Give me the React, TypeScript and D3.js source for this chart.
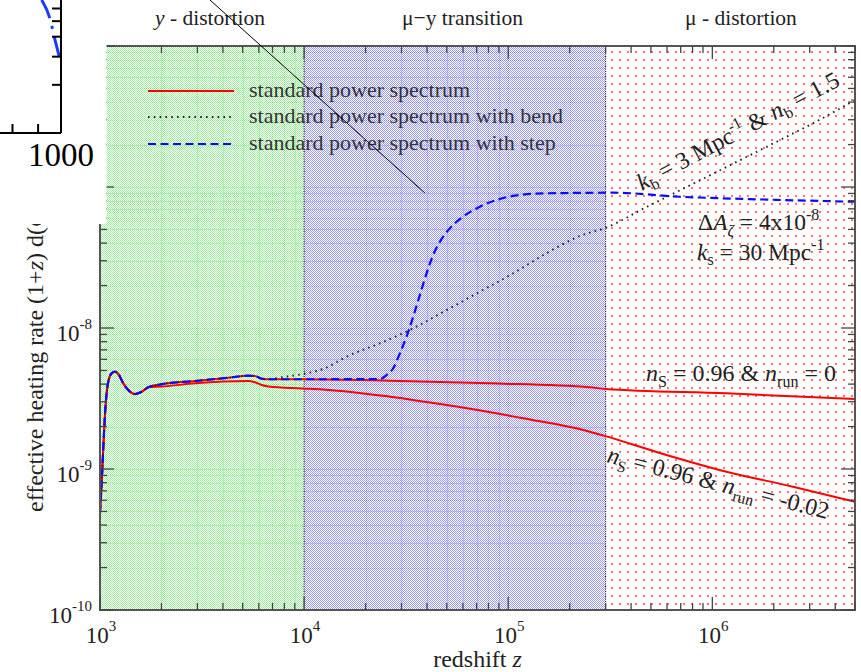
import React from 'react';
import * as d3 from 'd3';

const WIDTH = 861;
const HEIGHT = 672;

// axes
const Z_DOMAIN: [number, number] = [1e3, 5e6];
const V_DOMAIN: [number, number] = [1e-10, 1e-6];
const xMajor = [1e3, 1e4, 1e5, 1e6];
const xMajorExp = ['3', '4', '5', '6'];
const yMajor = [1e-10, 1e-9, 1e-8, 1e-7, 1e-6];
const yMajorExp = ['-10', '-9', '-8', '-7', '-6'];

// regions
const regionEdges = [1e3, 1e4, 3e5, 5e6];

// legend
const legendLabels = [
  'standard power spectrum',
  'standard power spectrum with bend',
  'standard power spectrum with step',
];

// series: standard, n_run = 0
const stdZ = [1000, 1019, 1046, 1070, 1098, 1141, 1185, 1229, 1301, 1376, 1484, 1600, 1724, 2005, 2919, 4250, 5323, 5742, 6193, 6672, 9900,
  26320, 81250, 250900, 299600, 1172000, 5000000];
const stdV = [4.88e-10, 7.96e-10, 1.80e-9, 3.08e-9, 4.16e-9, 4.77e-9, 4.90e-9, 4.72e-9, 4.05e-9, 3.63e-9, 3.40e-9, 3.53e-9, 3.80e-9, 3.99e-9, 4.21e-9, 4.44e-9, 4.59e-9, 4.57e-9, 4.37e-9, 4.33e-9, 4.33e-9,
  4.23e-9, 4.05e-9, 3.80e-9, 3.69e-9, 3.44e-9, 3.14e-9];

// series: standard, n_run = -0.02
const runZ = [1000, 1019, 1046, 1070, 1098, 1141, 1185, 1229, 1301, 1376, 1484, 1600, 1724,
  2005, 2919, 5323, 5742, 6193, 6672, 9722, 12360, 26320, 55830, 118300, 250900, 299600, 552600, 1172000, 2484000, 5000000];
const runV = [4.88e-10, 7.96e-10, 1.80e-9, 3.08e-9, 4.16e-9, 4.77e-9, 4.90e-9, 4.72e-9, 4.05e-9, 3.63e-9, 3.40e-9, 3.53e-9, 3.80e-9,
  3.84e-9, 4.05e-9, 4.21e-9, 4.12e-9, 3.94e-9, 3.85e-9, 3.73e-9, 3.67e-9, 3.26e-9, 2.77e-9, 2.29e-9, 1.84e-9, 1.71e-9, 1.30e-9, 9.57e-10, 7.49e-10, 5.86e-10];

// series: with bend
const bendZ = [1000, 1019, 1046, 1070, 1098, 1141, 1185, 1229, 1301, 1376, 1484, 1600, 1724, 2005, 2919, 4250, 5323, 5742, 6193, 6672,
  8054, 9900, 12640, 16150, 23510, 34220, 49880, 72600, 105700, 154000, 224200, 303000, 475600, 596100, 2307000, 3113000, 5000000];
const bendV = [4.88e-10, 7.96e-10, 1.80e-9, 3.08e-9, 4.16e-9, 4.77e-9, 4.90e-9, 4.72e-9, 4.05e-9, 3.63e-9, 3.40e-9, 3.53e-9, 3.80e-9, 3.99e-9, 4.21e-9, 4.44e-9, 4.59e-9, 4.57e-9, 4.37e-9, 4.33e-9,
  4.51e-9, 4.72e-9, 5.18e-9, 6.26e-9, 7.79e-9, 9.95e-9, 1.34e-8, 1.81e-8, 2.44e-8, 3.39e-8, 4.49e-8, 5.16e-8, 7.21e-8, 8.49e-8, 2.27e-7, 2.83e-7, 4.14e-7];

// series: with step
const stepZ = [1000, 1019, 1046, 1070, 1098, 1141, 1185, 1229, 1301, 1376, 1484, 1600, 1724, 2005, 2919, 4250, 5323, 5742, 6193, 6672, 9900,
  23510, 25350, 27320, 29450, 31760, 34220, 36900, 39800, 42870, 46240, 51760, 60130, 72600, 87560, 114000, 154000, 326400, 692300, 1469000, 5000000];
const stepV = [4.88e-10, 7.96e-10, 1.80e-9, 3.08e-9, 4.16e-9, 4.77e-9, 4.90e-9, 4.72e-9, 4.05e-9, 3.63e-9, 3.40e-9, 3.53e-9, 3.80e-9, 3.99e-9, 4.21e-9, 4.44e-9, 4.59e-9, 4.57e-9, 4.37e-9, 4.33e-9, 4.33e-9,
  4.35e-9, 4.64e-9, 5.18e-9, 6.61e-9, 8.68e-9, 1.20e-8, 1.71e-8, 2.44e-8, 3.29e-8, 4.09e-8, 5.09e-8, 6.16e-8, 7.25e-8, 8.09e-8, 8.78e-8, 9.02e-8, 9.11e-8, 8.53e-8, 8.22e-8, 7.86e-8];

// stray pointer line (in data units)
const pointerZ = [3457, 39040];
const pointerV = [2.12e-6, 9.07e-8];

// fragment of a neighbouring figure (top-left corner)
const insetXDomain: [number, number] = [800, 1000];
const insetYDomain: [number, number] = [1, 10];
const insetXTicks = [800, 900];
const insetYTicks = [2, 3, 4, 5, 6];
const insetLabel = '1000';
const insetLineX = [915, 950, 973, 1000];
const insetLineY = [6.78, 5.21, 3.81, 2.73];

const FONT = '"Liberation Serif", "DejaVu Serif", "Times New Roman", serif';

const zip = (a: number[], b: number[]): [number, number][] => a.map((v, i) => [v, b[i]]);

export default function App() {
  const L = 100, R = 855, T = 46, B = 610;
  const x = d3.scaleLog().domain(Z_DOMAIN).range([L, R]);
  const y = d3.scaleLog().domain(V_DOMAIN).range([B, T]);
  const line = d3.line<[number, number]>().x(d => x(d[0])).y(d => y(d[1])).curve(d3.curveMonotoneX);
  const xTicks = x.ticks();
  const yTicks = y.ticks();
  const isMajor = (t: number) => Math.abs(Math.log10(t) - Math.round(Math.log10(t))) < 1e-6;

  const xr = regionEdges.map(z => x(z));

  const ix = d3.scaleLog().domain(insetXDomain).range([12.5, 61]);
  const iy = d3.scaleLog().domain(insetYDomain).range([133, -27]);
  const insetLine = d3.line<[number, number]>().x(d => ix(d[0])).y(d => iy(d[1])).curve(d3.curveMonotoneX);

  const gridColors = ['rgba(0,210,0,0.28)', 'rgba(0,0,235,0.22)'];

  return (
    <svg width={WIDTH} height={HEIGHT} style={{ position: 'absolute', left: 0, top: 0, background: '#fff' }} fontFamily={FONT}>
      <defs>
        <pattern id="greenPat" width="2" height="2" patternUnits="userSpaceOnUse">
          <rect width="2" height="2" fill="#fff" />
          <rect x="0" y="0" width="1" height="1" fill="#9cee9c" />
          <rect x="1" y="1" width="1" height="1" fill="#9cee9c" />
        </pattern>
        <pattern id="bluePat" width="2" height="2" patternUnits="userSpaceOnUse">
          <rect width="2" height="2" fill="#fff" />
          <rect x="0" y="0" width="1" height="1" fill="#9a9af4" />
          <rect x="1" y="1" width="1" height="1" fill="#9a9af4" />
        </pattern>
        <pattern id="redPat" width="8" height="8" patternUnits="userSpaceOnUse">
          <rect width="8" height="8" fill="#fff" />
          <rect x="3" y="3" width="2" height="2" fill="#ff7474" />
        </pattern>
        <clipPath id="plotClip">
          <rect x={L} y={T} width={R - L} height={B - T} />
        </clipPath>
        <clipPath id="insetClip">
          <rect x={0} y={0} width={61} height={133} />
        </clipPath>
      </defs>

      {/* regions */}
      <rect x={xr[0]} y={T} width={xr[1] - xr[0]} height={B - T} fill="url(#greenPat)" shapeRendering="crispEdges" />
      <rect x={xr[1]} y={T} width={xr[2] - xr[1]} height={B - T} fill="url(#bluePat)" shapeRendering="crispEdges" />
      <rect x={xr[2]} y={T} width={xr[3] - xr[2]} height={B - T} fill="url(#redPat)" shapeRendering="crispEdges" />

      {/* grid lines in the first two regions */}
      {[0, 1].map(r => (
        <g key={'grid' + r} stroke={gridColors[r]} strokeWidth={1} strokeDasharray="1 1" shapeRendering="crispEdges">
          {yTicks.map((t, i) => (
            <line key={'h' + i} x1={xr[r]} x2={xr[r + 1]} y1={Math.round(y(t)) + 0.5} y2={Math.round(y(t)) + 0.5} />
          ))}
          {xTicks.filter(t => x(t) > xr[r] + 1 && x(t) < xr[r + 1] - 1).map((t, i) => (
            <line key={'v' + i} x1={Math.round(x(t)) + 0.5} x2={Math.round(x(t)) + 0.5} y1={T} y2={B} />
          ))}
        </g>
      ))}

      {/* region boundaries */}
      {[1, 2].map(i => (
        <line key={'b' + i} x1={xr[i]} x2={xr[i]} y1={T} y2={B} stroke="#222" strokeWidth={1.2} strokeDasharray="1 1.5" />
      ))}

      {/* data */}
      <g clipPath="url(#plotClip)" fill="none">
        <path d={line(zip(stdZ, stdV)) || ''} stroke="#ff0000" strokeWidth={2} />
        <path d={line(zip(runZ, runV)) || ''} stroke="#ff0000" strokeWidth={2} />
        <path d={line(zip(bendZ, bendV)) || ''} stroke="#222" strokeWidth={1.9} strokeDasharray="1.6 4.2" />
        <path d={line(zip(stepZ, stepV)) || ''} stroke="#0a0aff" strokeWidth={2.2} strokeDasharray="8 4.5" />
      </g>

      {/* frame */}
      <rect x={L} y={T} width={R - L} height={B - T} fill="none" stroke="#555" strokeWidth={2} />

      {/* ticks */}
      <g stroke="#444" strokeWidth={1.3}>
        {xTicks.map((t, i) => {
          const len = isMajor(t) ? 13 : 7;
          const px = x(t);
          return (
            <g key={'xt' + i}>
              <line x1={px} x2={px} y1={B} y2={B - len} />
              <line x1={px} x2={px} y1={T} y2={T + len} />
            </g>
          );
        })}
        {yTicks.map((t, i) => {
          const len = isMajor(t) ? 14 : 7;
          const py = y(t);
          return (
            <g key={'yt' + i}>
              <line x1={L} x2={L + len} y1={py} y2={py} />
              <line x1={R} x2={R - len} y1={py} y2={py} />
            </g>
          );
        })}
      </g>

      {/* tick labels */}
      <g fill="#222" fontSize={23}>
        {xMajor.map((t, i) => (
          <text key={'xl' + i} x={x(t) + 1} y={643} textAnchor="middle">
            10<tspan fontSize={15} dy={-12}>{xMajorExp[i]}</tspan>
          </text>
        ))}
        {yMajor.map((t, i) => (
          <text key={'yl' + i} x={92} y={y(t) + 13} textAnchor="end">
            10<tspan fontSize={15} dy={-12}>{yMajorExp[i]}</tspan>
          </text>
        ))}
      </g>

      {/* axis titles */}
      <text x={477.5} y={667} textAnchor="middle" fontSize={24} fill="#222">
        redshift <tspan fontStyle="italic">z</tspan>
      </text>
      <text transform="translate(43,512) rotate(-90)" fontSize={24} fill="#222">
        effective heating rate (1+<tspan fontStyle="italic">z</tspan>) d(<tspan fontStyle="italic">Q</tspan>/ρ<tspan fontSize={16} dy={5}>γ</tspan><tspan dy={-5}>)/d</tspan><tspan fontStyle="italic">z</tspan>
      </text>

      {/* region titles */}
      <g fontSize={21.5} fill="#222">
        <text x={155} y={25}><tspan fontStyle="italic">y</tspan> - distortion</text>
        <text x={402} y={25}>μ−y transition</text>
        <text x={685} y={25}>μ - distortion</text>
      </g>

      {/* legend */}
      <g>
        <line x1={148} x2={234} y1={91} y2={91} stroke="#ff0000" strokeWidth={2} />
        <line x1={148} x2={234} y1={117} y2={117} stroke="#222" strokeWidth={1.9} strokeDasharray="1.6 4.2" />
        <line x1={148} x2={234} y1={144} y2={144} stroke="#0a0aff" strokeWidth={2.2} strokeDasharray="8 4.5" />
        {legendLabels.map((s, i) => (
          <text key={'lg' + i} x={249} y={[91, 117, 144][i] + 6} fontSize={22} fill="#333">{s}</text>
        ))}
      </g>

      {/* annotations */}
      <g fill="#222" fontSize={24}>
        <text transform="translate(642,191) rotate(-28)">
          <tspan fontStyle="italic">k</tspan><tspan fontSize={16} dy={5}>b</tspan><tspan dy={-5}> = 3 Mpc</tspan><tspan fontSize={16} dy={-10}>-1</tspan><tspan dy={10}>{' & '}</tspan><tspan fontStyle="italic">n</tspan><tspan fontSize={16} dy={5}>b</tspan><tspan dy={-5}> = 1.5</tspan>
        </text>
        <text x={698} y={230} fontSize={23.5}>
          Δ<tspan fontStyle="italic">A</tspan><tspan fontSize={16} dy={6} fontStyle="italic">ζ</tspan><tspan dy={-6}> = 4x10</tspan><tspan fontSize={16} dy={-10}>-8</tspan>
        </text>
        <text x={697} y={260} fontSize={23.5}>
          <tspan fontStyle="italic">k</tspan><tspan fontSize={16} dy={5}>s</tspan><tspan dy={-5}> = 30 Mpc</tspan><tspan fontSize={16} dy={-10}>-1</tspan>
        </text>
        <text x={646} y={381}>
          <tspan fontStyle="italic">n</tspan><tspan fontSize={16} dy={6}>S</tspan><tspan dy={-6}> = 0.96 &amp; </tspan><tspan fontStyle="italic">n</tspan><tspan fontSize={16} dy={6}>run</tspan><tspan dy={-6}> = 0</tspan>
        </text>
        <text transform="translate(606,462) rotate(14.5)">
          <tspan fontStyle="italic">n</tspan><tspan fontSize={16} dy={6}>S</tspan><tspan dy={-6}> = 0.96 &amp; </tspan><tspan fontStyle="italic">n</tspan><tspan fontSize={16} dy={6}>run</tspan><tspan dy={-6}> = -0.02</tspan>
        </text>
      </g>

      {/* stray pointer line */}
      <line x1={x(pointerZ[0])} y1={y(pointerV[0])} x2={x(pointerZ[1])} y2={y(pointerV[1])} stroke="#000" strokeWidth={1} />

      {/* overlapping fragment of neighbouring figure */}
      <rect x={0} y={0} width={106.5} height={224} fill="#fff" />
      <g>
        <path d={insetLine(zip(insetLineX, insetLineY)) || ''} clipPath="url(#insetClip)" fill="none" stroke="#1a3cff" strokeWidth={3} strokeDasharray="20 8 3 8" />
        <line x1={ix(1000)} x2={ix(1000)} y1={0} y2={iy(1)} stroke="#000" strokeWidth={2} />
        <line x1={0} x2={ix(1000)} y1={iy(1)} y2={iy(1)} stroke="#000" strokeWidth={2} />
        {insetXTicks.map((t, i) => (
          <line key={'ixt' + i} x1={ix(t)} x2={ix(t)} y1={iy(1)} y2={iy(1) - 9} stroke="#000" strokeWidth={2} />
        ))}
        {insetYTicks.map((t, i) => (
          <line key={'iyt' + i} x1={ix(1000)} x2={ix(1000) - 9} y1={iy(t)} y2={iy(t)} stroke="#000" strokeWidth={2} />
        ))}
        <text x={ix(1000)} y={166} textAnchor="middle" fontSize={33} fill="#000">{insetLabel}</text>
      </g>
    </svg>
  );
}
